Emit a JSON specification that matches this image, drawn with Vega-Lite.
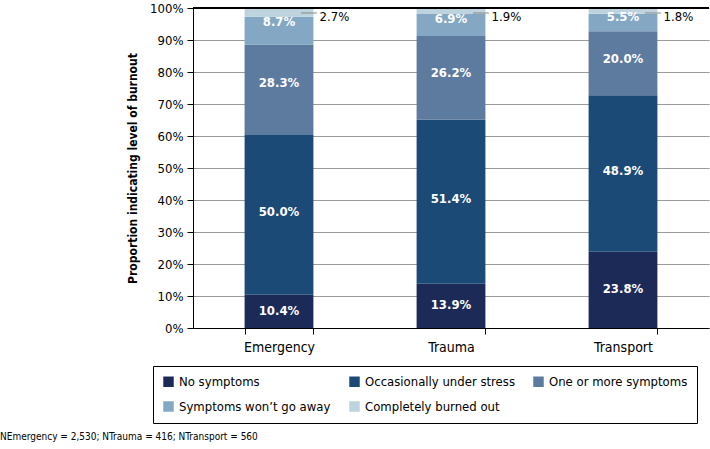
{
  "$schema": "https://vega.github.io/schema/vega-lite/v6.json",
  "width": 516,
  "height": 320,
  "autosize": {"type": "none"},
  "padding": {"left": 193, "top": 8, "right": 1, "bottom": 121},
  "config": {
    "font": "DejaVu Sans Condensed",
    "view": {"stroke": null},
    "axisY": {"tickCount": 10, "labelOverlap": false}
  },
  "title": {
    "text": "NEmergency = 2,530; NTrauma = 416; NTransport = 560",
    "orient": "bottom",
    "anchor": "start",
    "frame": "group",
    "dx": -193,
    "offset": 8,
    "fontSize": 10,
    "fontWeight": "normal",
    "color": "black"
  },
  "data": {
    "values": [
      {"site": "Emergency", "cat": "No symptoms", "order": 1, "pct": 0.104},
      {"site": "Emergency", "cat": "Occasionally under stress", "order": 2, "pct": 0.500},
      {"site": "Emergency", "cat": "One or more symptoms", "order": 3, "pct": 0.283},
      {"site": "Emergency", "cat": "Symptoms won’t go away", "order": 4, "pct": 0.087},
      {"site": "Emergency", "cat": "Completely burned out", "order": 5, "pct": 0.027},
      {"site": "Trauma", "cat": "No symptoms", "order": 1, "pct": 0.139},
      {"site": "Trauma", "cat": "Occasionally under stress", "order": 2, "pct": 0.514},
      {"site": "Trauma", "cat": "One or more symptoms", "order": 3, "pct": 0.262},
      {"site": "Trauma", "cat": "Symptoms won’t go away", "order": 4, "pct": 0.069},
      {"site": "Trauma", "cat": "Completely burned out", "order": 5, "pct": 0.019},
      {"site": "Transport", "cat": "No symptoms", "order": 1, "pct": 0.238},
      {"site": "Transport", "cat": "Occasionally under stress", "order": 2, "pct": 0.489},
      {"site": "Transport", "cat": "One or more symptoms", "order": 3, "pct": 0.200},
      {"site": "Transport", "cat": "Symptoms won’t go away", "order": 4, "pct": 0.055},
      {"site": "Transport", "cat": "Completely burned out", "order": 5, "pct": 0.018}
    ]
  },
  "layer": [
    {
      "mark": {"type": "bar"},
      "encoding": {
        "x": {
          "field": "site", "type": "nominal", "sort": ["Emergency", "Trauma", "Transport"],
          "scale": {"paddingInner": 0.6, "paddingOuter": 0.3},
          "axis": {
            "title": null, "labelAngle": 0, "labelFontSize": 14, "labelColor": "black",
            "domainColor": "black", "tickColor": "black", "tickBand": "extent", "tickSize": 6,
            "labelPadding": 6
          }
        },
        "y": {
          "field": "pct", "type": "quantitative", "stack": "normalize",
          "scale": {"domain": [0, 1]},
          "axis": {
            "title": "Proportion indicating level of burnout", "titleFontSize": 12, "titleFontWeight": "bold",
            "titleColor": "black", "titlePadding": 10,
            "format": ".0%", "tickCount": 10, "labelOverlap": false,
            "labelFontSize": 13, "labelColor": "black", "labelPadding": 4,
            "domainColor": "black", "tickColor": "black", "tickSize": 6,
            "gridColor": "#999999", "gridWidth": 1
          }
        },
        "color": {
          "field": "cat", "type": "nominal",
          "scale": {
            "domain": ["No symptoms", "Occasionally under stress", "One or more symptoms", "Symptoms won’t go away", "Completely burned out"],
            "range": ["#1c2a58", "#1c4a76", "#5d7a9f", "#84a8c4", "#bdd3de"]
          },
          "legend": {
            "title": null, "orient": "none", "legendX": -40, "legendY": 358,
            "columns": 3, "direction": "horizontal",
            "strokeColor": "black", "padding": 9, "rowPadding": 11, "columnPadding": 17,
            "symbolType": "square", "symbolSize": 110, "symbolStrokeWidth": 0,
            "labelFontSize": 13, "labelColor": "black", "labelLimit": 300
          }
        },
        "order": {"field": "order"}
      }
    },
    {
      "transform": [{"filter": "datum.pct >= 0.04"}],
      "mark": {"type": "text", "color": "white", "fontWeight": "bold", "fontSize": 13, "baseline": "middle"},
      "encoding": {
        "x": {"field": "site", "type": "nominal", "sort": ["Emergency", "Trauma", "Transport"]},
        "y": {"field": "pct", "type": "quantitative", "stack": "normalize", "bandPosition": 0.5},
        "order": {"field": "order"},
        "text": {"field": "pct", "type": "quantitative", "format": ".1%"}
      }
    },
    {
      "transform": [{"filter": "datum.order == 5"}],
      "mark": {"type": "rule", "color": "#888888", "yOffset": 5},
      "encoding": {
        "x": {"field": "site", "type": "nominal", "sort": ["Emergency", "Trauma", "Transport"], "bandPosition": 0.82},
        "x2": {"field": "site", "bandPosition": 1.05},
        "y": {"datum": 1}
      }
    },
    {
      "transform": [{"filter": "datum.order == 5"}],
      "mark": {"type": "text", "color": "black", "fontSize": 13, "baseline": "middle", "align": "left", "dy": 9},
      "encoding": {
        "x": {"field": "site", "type": "nominal", "sort": ["Emergency", "Trauma", "Transport"], "bandPosition": 1.09},
        "y": {"datum": 1},
        "text": {"field": "pct", "type": "quantitative", "format": ".1%"}
      }
    },
    {
      "mark": {"type": "rule", "color": "black"},
      "encoding": {"y": {"datum": 1}}
    }
  ]
}
